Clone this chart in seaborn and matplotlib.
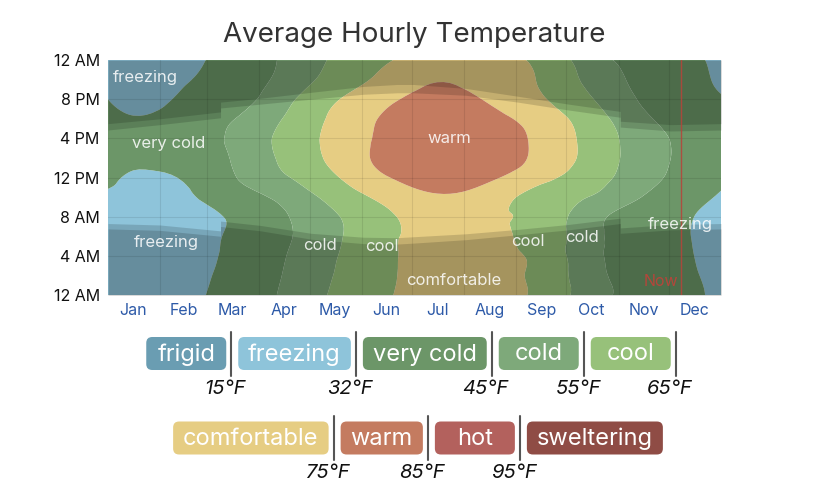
import numpy as np
import matplotlib
matplotlib.use("Agg")
import matplotlib.pyplot as plt
import matplotlib.tri as mtri
from matplotlib.patches import FancyBboxPatch
import seaborn as sns

# ── Data ──────────────────────────────────────────────────────────────────────
months          = ["Jan", "Feb", "Mar", "Apr", "May", "Jun",
                   "Jul", "Aug", "Sep", "Oct", "Nov", "Dec"]
month_mid_days  = [15, 45, 74, 105, 135, 166, 196, 227, 258, 288, 319, 349]
month_edge_days = [31, 59, 90, 120, 151, 181, 212, 243, 273, 304, 334]

hour_ticks  = [0, 4, 8, 12, 16, 20, 24]
hour_labels = ["12 AM", "4 AM", "8 AM", "12 PM", "4 PM", "8 PM", "12 AM"]

# average temperature (°F): rows = hour of day, cols = day of year
grid_days  = [0, 15, 45, 74, 105, 135, 166, 196, 227, 258, 288, 319, 349, 365]
grid_hours = [0, 2, 4, 6, 8, 10, 12, 14, 16, 18, 20, 22, 24]
temp_f = [
    [30.0, 27.5, 29.0, 36.5, 46.5, 56.4, 64.2, 68.5, 68.0, 62.5, 49.3, 40.7, 33.5, 30.0],
    [29.0, 26.5, 28.0, 35.5, 45.5, 55.3, 63.8, 67.3, 66.8, 62.3, 48.5, 40.0, 32.8, 29.0],
    [28.0, 25.5, 27.0, 34.5, 44.6, 54.3, 63.8, 66.3, 66.5, 62.0, 47.8, 39.3, 32.0, 28.0],
    [27.5, 25.0, 26.5, 33.8, 43.5, 53.2, 63.5, 66.0, 65.5, 61.5, 48.0, 38.5, 31.5, 27.5],
    [29.0, 27.0, 28.5, 33.3, 44.0, 54.0, 63.5, 68.0, 66.0, 61.5, 48.5, 39.5, 32.0, 29.0],
    [31.0, 30.0, 30.5, 38.5, 48.0, 58.5, 68.0, 74.0, 70.0, 61.0, 54.5, 44.5, 35.0, 31.0],
    [33.5, 31.0, 33.0, 44.0, 54.0, 64.0, 74.5, 79.0, 76.5, 68.0, 59.0, 49.0, 39.0, 34.0],
    [36.0, 34.5, 38.5, 45.5, 57.0, 67.5, 78.0, 82.0, 80.0, 72.5, 61.5, 50.0, 41.0, 36.0],
    [37.0, 35.5, 39.5, 46.4, 57.8, 67.9, 77.5, 82.0, 80.0, 72.6, 61.4, 49.7, 41.0, 37.0],
    [35.0, 32.6, 37.0, 44.5, 55.5, 67.0, 76.5, 81.0, 78.0, 70.5, 59.5, 47.0, 38.0, 35.0],
    [32.0, 29.5, 33.5, 40.0, 52.0, 64.0, 73.0, 78.0, 74.0, 66.0, 55.5, 43.5, 35.0, 32.5],
    [31.0, 29.0, 31.0, 38.0, 48.0, 59.0, 68.0, 74.5, 71.0, 64.0, 52.0, 42.0, 34.0, 31.0],
    [30.0, 27.5, 29.0, 36.5, 46.5, 56.4, 64.2, 68.5, 68.0, 62.5, 49.3, 40.7, 33.5, 30.0],
]

# daylight (clock hours, with the DST jumps in March and November)
sun_days  = [0, 31, 67, 67, 91, 121, 152, 172, 182, 213, 244, 274, 305, 305, 335, 365]
dawn_h    = [6.75, 6.6, 6.0, 7.0, 6.55, 5.7, 5.25, 5.2, 5.3, 5.65, 6.15, 6.65, 7.3, 6.3, 6.65, 6.75]
sunrise_h = [7.3, 7.15, 6.55, 7.55, 7.1, 6.3, 5.9, 5.85, 5.95, 6.25, 6.7, 7.2, 7.85, 6.85, 7.2, 7.3]
sunset_h  = [16.85, 17.4, 18.1, 19.1, 19.5, 20.0, 20.5, 20.65, 20.65, 20.4, 19.7, 18.9, 18.15, 17.15, 16.75, 16.85]
dusk_h    = [17.5, 18.0, 18.7, 19.7, 20.1, 20.7, 21.3, 21.5, 21.5, 21.1, 20.3, 19.5, 18.75, 17.75, 17.4, 17.5]

now_day = 341

band_names  = ["frigid", "freezing", "very cold", "cold", "cool",
               "comfortable", "warm", "hot", "sweltering"]
band_edges  = [15, 32, 45, 55, 65, 75, 85, 95]
band_colors = ["#6a9db2", "#8ec4da", "#6c9668", "#7ea97a", "#97c17a",
               "#e6cd83", "#c47b60", "#b3615d", "#8f4c45"]

# labels written on the chart: (text, day, hour)
region_labels = [
    ("freezing", 22, 22.2), ("very cold", 36, 15.5), ("freezing", 34.5, 5.4),
    ("cold", 126, 5.1), ("cool", 163, 5.0), ("warm", 203, 16.0),
    ("comfortable", 206, 1.5), ("cool", 250, 5.5), ("cold", 282, 5.9),
    ("freezing", 341, 7.15),
]

# ── Style ─────────────────────────────────────────────────────────────────────
sns.set_theme(style="white")
plt.rcParams["font.family"] = ["Inter", "DejaVu Sans"]

W, H = 828, 500
fig = plt.figure(figsize=(W / 100, H / 100), dpi=100)
ax = fig.add_axes([108 / W, 1 - 295 / H, (721 - 108) / W, (295 - 60) / H])

# ── Temperature bands ─────────────────────────────────────────────────────────
# triangulate in roughly isotropic units (months x 2-hour steps), let
# matplotlib's cubic refiner smooth the band edges, then map back to days/hours
sx, sy = 30.4, 2.0
gx, gy = np.meshgrid(np.array(grid_days) / sx, np.array(grid_hours) / sy)
tri = mtri.Triangulation(gx.ravel(), gy.ravel())
tri_fine, t_fine = mtri.UniformTriRefiner(tri).refine_field(
    np.array(temp_f).ravel(), subdiv=3)
tri_fine = mtri.Triangulation(tri_fine.x * sx, tri_fine.y * sy, tri_fine.triangles)

levels = [-100] + band_edges + [200]
ax.tricontourf(tri_fine, t_fine, levels=levels, colors=band_colors,
               antialiased=True, zorder=1)

# ── Twilight / night shading ──────────────────────────────────────────────────
shade = dict(color="black", alpha=0.15, linewidth=0, zorder=2)
ax.fill_between(sun_days, 0, sunrise_h, **shade)
ax.fill_between(sun_days, sunset_h, 24, **shade)
ax.fill_between(sun_days, 0, dawn_h, **shade)
ax.fill_between(sun_days, dusk_h, 24, **shade)

# ── Grid, axes ────────────────────────────────────────────────────────────────
for d in month_edge_days:
    ax.axvline(d, color="black", alpha=0.09, lw=0.8, zorder=3)
for h in hour_ticks[1:-1]:
    ax.axhline(h, color="black", alpha=0.09, lw=0.8, zorder=3)

ax.set_xlim(0, 365)
ax.set_ylim(0, 24)
ax.set_xticks(month_mid_days)
ax.set_xticklabels(months, color="#2d5aa8", fontsize=11.5)
ax.set_yticks(hour_ticks)
ax.set_yticklabels(hour_labels, color="#111111", fontsize=11.5)
ax.tick_params(length=0, pad=6)
sns.despine(ax=ax, left=True, bottom=True)

# ── "Now" marker ──────────────────────────────────────────────────────────────
ax.axvline(now_day, color="#b8433a", lw=1.0, alpha=0.85, zorder=4)
ax.text(now_day - 1.5, 1.4, "Now", color="#b9443a", alpha=0.95, fontsize=11.5,
        ha="right", va="center", zorder=4)

for text, d, h in region_labels:
    ax.text(d, h, text, color="white", alpha=0.85, fontsize=12,
            ha="center", va="center", zorder=4)

fig.text(0.5, 1 - 35 / H, "Average Hourly Temperature", ha="center",
         va="center", fontsize=20, color="#333333")

# ── Legend ────────────────────────────────────────────────────────────────────
lax = fig.add_axes([0, 0, 1, 1])
lax.set_xlim(0, W)
lax.set_ylim(H, 0)
lax.set_axis_off()
renderer = fig.canvas.get_renderer()


def text_width(s, size):
    t = lax.text(0, 0, s, fontsize=size)
    w = t.get_window_extent(renderer).width
    t.remove()
    return w


def draw_row(idx, edges, y_mid, trailing_sep):
    box_h, gap_before, gap_after, fs = 33, 5, 7, 17
    widths = [max(text_width(band_names[i], fs) + 20, 80) for i in idx]
    n_sep = len(edges)
    total = sum(widths) + n_sep * (gap_before + gap_after)
    if not trailing_sep:
        total -= gap_after
    x = (108 + 721) / 2 - total / 2
    for k, i in enumerate(idx):
        w = widths[k]
        lax.add_patch(FancyBboxPatch((x, y_mid - box_h / 2), w, box_h,
                                     boxstyle="round,pad=0,rounding_size=6",
                                     facecolor=band_colors[i], edgecolor="none"))
        lax.text(x + w / 2, y_mid + 1, band_names[i], color="white",
                 fontsize=fs, ha="center", va="center")
        x += w
        if k < n_sep:
            sx_ = x + gap_before
            lax.plot([sx_, sx_], [y_mid - 22, y_mid + 22], color="#555555", lw=1.5)
            lax.text(sx_ - 6, y_mid + 35, f"{edges[k]}°F", fontsize=14.5,
                     style="italic", ha="center", va="center", color="#111111")
            x = sx_ + gap_after


draw_row([0, 1, 2, 3, 4], band_edges[:5], 353.5, True)
draw_row([5, 6, 7, 8], band_edges[5:], 438, False)

fig.savefig("out.png", dpi=100)
